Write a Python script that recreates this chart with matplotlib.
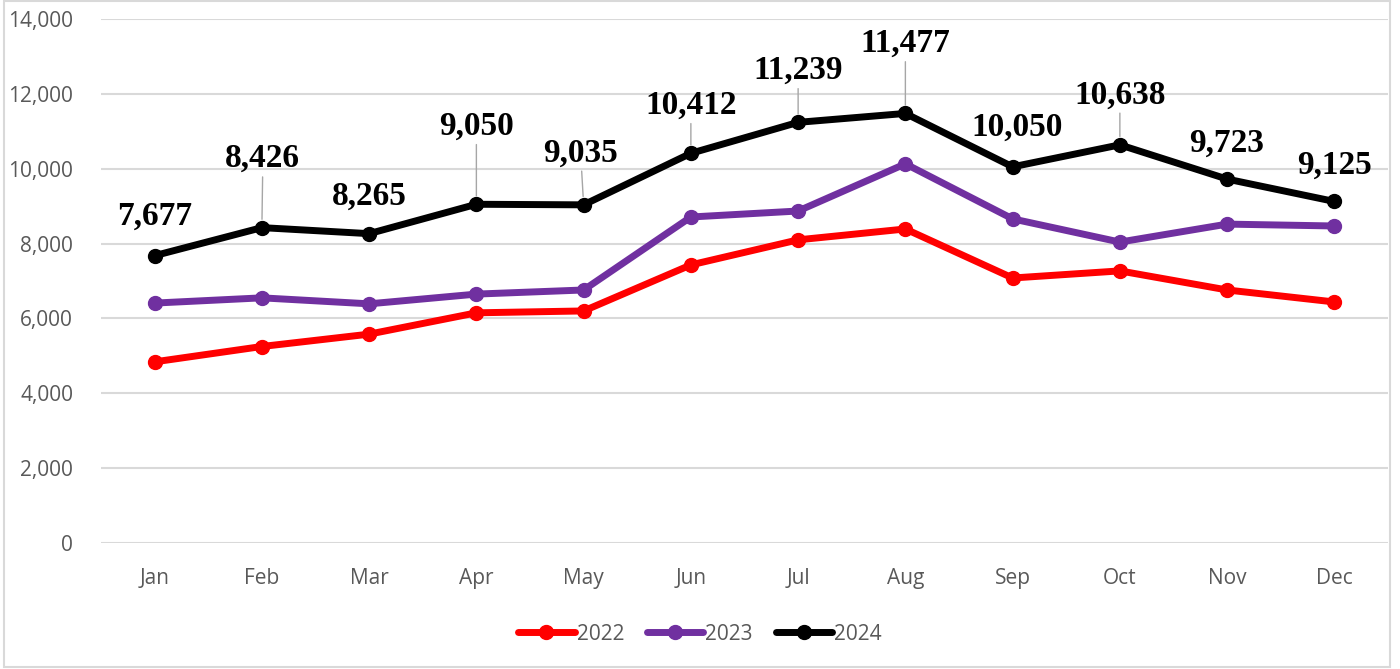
import matplotlib.pyplot as plt
from matplotlib.patches import Rectangle
from matplotlib.lines import Line2D

months = ["Jan", "Feb", "Mar", "Apr", "May", "Jun",
          "Jul", "Aug", "Sep", "Oct", "Nov", "Dec"]
y2022 = [4840, 5250, 5580, 6150, 6200, 7430, 8100, 8390, 7080, 7270, 6760, 6440]
y2023 = [6410, 6550, 6390, 6650, 6760, 8710, 8870, 10130, 8660, 8040, 8520, 8470]
y2024 = [7677, 8426, 8265, 9050, 9035, 10412, 11239, 11477, 10050, 10638, 9723, 9125]
yticks = [0, 2000, 4000, 6000, 8000, 10000, 12000, 14000]

# label placement for the 2024 data labels (pixels above the point)
label_dy = [39, 69, 37, 78, 52, 48, 52, 70, 40, 50, 36, 36]
label_dx = [0, 1, 0, 0, -3, 0, 0, 0, 4, 0, -1, 0]

grey = "#595959"
plt.rcParams['font.family'] = ['Open Sans', 'DejaVu Sans']

fig = plt.figure(figsize=(14, 6.69), dpi=100)
fig.patches.append(Rectangle((4 / 1400, 2 / 669), 1386 / 1400, 666 / 669,
                             transform=fig.transFigure, fill=False,
                             edgecolor="#D9D9D9", linewidth=1.5))
ax = fig.add_axes([101 / 1400, 1 - 543 / 669, 1287 / 1400, 524 / 669])

x = list(range(len(months)))
series = [(y2022, "#FF0000", "2022"), (y2023, "#7030A0", "2023"), (y2024, "#000000", "2024")]
for vals, col, name in series:
    ax.plot(x, vals, color=col, lw=5, marker="o", ms=10, label=name,
            solid_capstyle="round", zorder=3)

px = 72 / 100  # pixels -> points
for i, v in enumerate(y2024):
    dy, dx = label_dy[i], label_dx[i]
    props = None
    if dy >= 45:
        props = dict(arrowstyle="-", color="#A6A6A6", lw=1, shrinkA=0, shrinkB=6)
    ax.annotate(f"{v:,}", (i, v), xytext=(dx * px, dy * px), textcoords="offset points",
                ha="center", va="center", fontsize=24, fontweight="bold",
                family="Liberation Serif", color="black", arrowprops=props, zorder=4)

ax.set_xlim(-0.5, 11.5)
ax.set_ylim(0, 14000)
ax.set_yticks(yticks)
ax.set_yticklabels([f"{t:,}" for t in yticks])
ax.set_xticks(x)
ax.set_xticklabels(months)
ax.tick_params(length=0, labelsize=15, labelcolor=grey)
ax.tick_params(axis="y", pad=20)
ax.tick_params(axis="x", pad=18)
ax.grid(axis="y", color="#D9D9D9", lw=1.5)
ax.set_axisbelow(True)
for s in ax.spines.values():
    s.set_visible(False)

handles = [Line2D([], [], color=c, lw=5, marker="o", ms=10, solid_capstyle="round")
           for _, c, _ in series]
leg = fig.legend(handles, [n for _, _, n in series], loc="center",
                 bbox_to_anchor=(700 / 1400, 1 - 634 / 669), ncol=3, frameon=False,
                 fontsize=15, handlelength=2.7, handletextpad=0.1, columnspacing=1.1)
for t in leg.get_texts():
    t.set_color(grey)

fig.savefig("out.png", dpi=100)
